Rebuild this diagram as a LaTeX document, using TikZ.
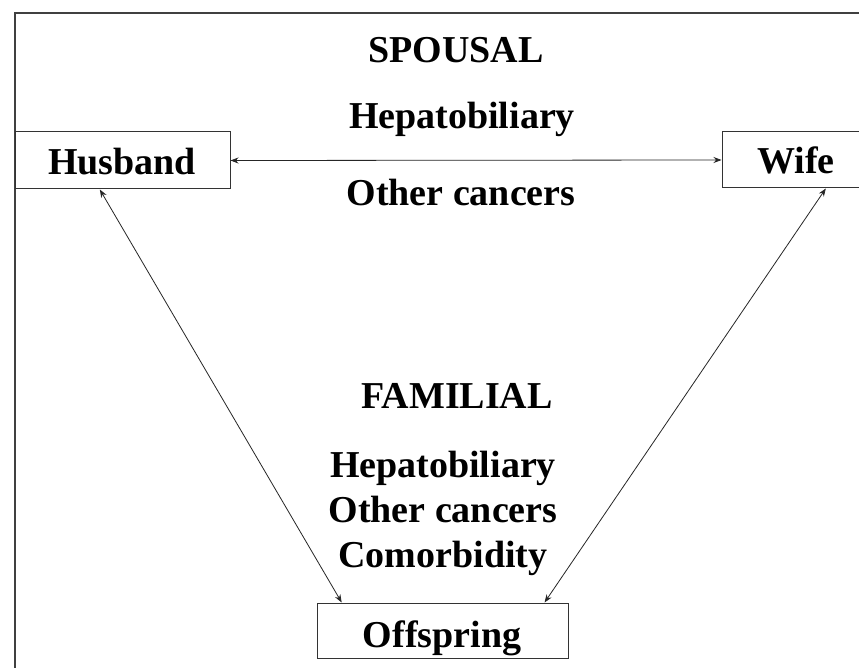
\documentclass[tikz,border=0pt]{standalone}
\usepackage{fontspec}
\setmainfont{Liberation Serif}
\usetikzlibrary{arrows.meta,calc}
\begin{document}
\begin{tikzpicture}[x=1pt,y=-1pt,
  lbl/.style={font=\fontsize{38}{40}\selectfont\bfseries, inner sep=0pt, anchor=base},
  boxnode/.style={draw=black!80, line width=1pt, inner sep=0pt},
  link/.style={draw=black!85, line width=0.8pt, {Stealth[length=8pt,width=6pt]}-{Stealth[length=8pt,width=6pt]}}]
\clip (0,0) rectangle (859,668);
\fill[white] (0,0) rectangle (859,668);
% outer frame (left and top edges visible)
\draw[black!75, line width=1.1pt] (15,680) -- (15,13) -- (870,13);
% boxes
\node[boxnode, minimum width=215pt, minimum height=57pt] (hus) at (122.5,160.5) {};
\node[boxnode, minimum width=148pt, minimum height=56pt] (wife) at (796,160) {};
\node[boxnode, minimum width=251pt, minimum height=55pt] (off) at (442.5,630.5) {};
% box labels
\node[lbl] (husT) at (122,175) {Husband};
\node[lbl] (wifeT) at (796,174) {Wife};
\node[lbl] (offT) at (442,647) {Offspring};
% middle texts
\node[lbl] (sp) at (456,63) {SPOUSAL};
\node[lbl] (sp1) at (462,129) {Hepatobiliary};
\node[lbl] (sp2) at (461,206) {Other cancers};
\node[lbl] (fa) at (457,408) {FAMILIAL};
\node[lbl] (fa1) at (443,477) {Hepatobiliary};
\node[lbl] (fa2) at (443,522) {Other cancers};
\node[lbl] (fa3) at (443,567) {Comorbidity};
% connector anchor points
\coordinate (hb) at ($(hus.south west)!0.395!(hus.south east)$);
\coordinate (wb) at ($(wife.south west)!0.70!(wife.south east)$);
\coordinate (ol) at ($(off.north west)!0.10!(off.north east)$);
\coordinate (or) at ($(off.north west)!0.905!(off.north east)$);
% connectors
\draw[link] (hus.east) -- (wife.west);
\draw[link] (hb) -- (ol);
\draw[link] (wb) -- (or);
\end{tikzpicture}
\end{document}
